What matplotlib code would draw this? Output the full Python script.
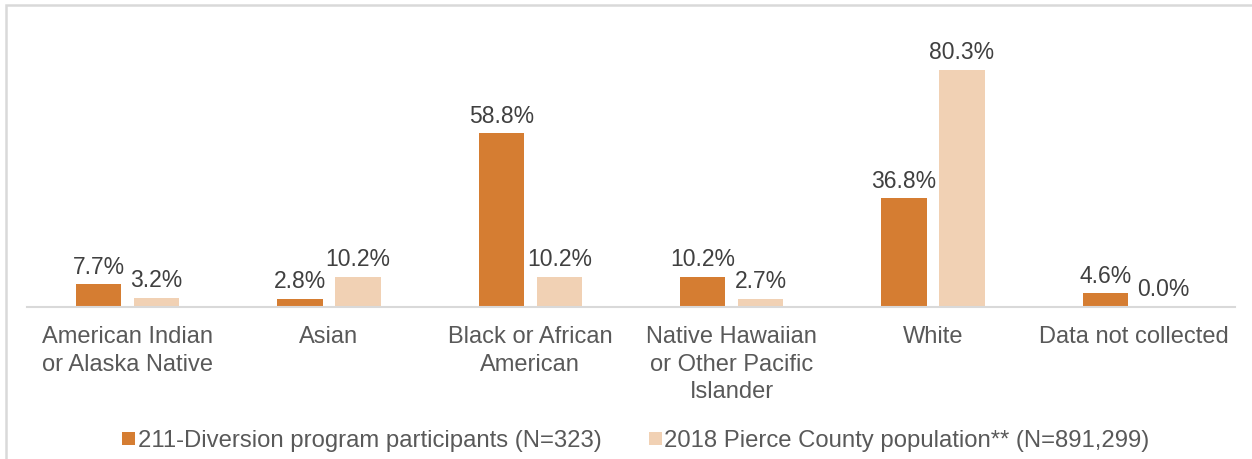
import numpy as np
import matplotlib.pyplot as plt
from matplotlib.patches import Rectangle

plt.rcParams['font.family'] = ['Liberation Sans', 'DejaVu Sans']

categories = ['American Indian\nor Alaska Native', 'Asian', 'Black or African\nAmerican',
              'Native Hawaiian\nor Other Pacific\nIslander', 'White', 'Data not collected']
participants = [7.7, 2.8, 58.8, 10.2, 36.8, 4.6]
county = [3.2, 10.2, 10.2, 2.7, 80.3, 0.0]
series_names = ['211-Diversion program participants (N=323)',
                '2018 Pierce County population** (N=891,299)']

c_part = '#D57D32'
c_county = '#F1D1B4'
txt = '#404040'

fig = plt.figure(figsize=(12.52, 4.59), dpi=100)
ax = fig.add_axes([27 / 1252, 152 / 459, 1208 / 1252, 266 / 459])

x = np.arange(len(categories))
w = 0.224
off = 0.144
b1 = ax.bar(x - off, participants, w, color=c_part, label=series_names[0])
b2 = ax.bar(x + off, county, w, color=c_county, label=series_names[1])

for bars, vals in ((b1, participants), (b2, county)):
    for rect, v in zip(bars, vals):
        ax.annotate(f'{v:.1f}%', (rect.get_x() + rect.get_width() / 2, v),
                    xytext=(0, 4), textcoords='offset points',
                    ha='center', va='bottom', fontsize=16.5, color=txt)

ax.set_xlim(-0.5, len(categories) - 0.5)
ax.set_ylim(0, 90)
ax.set_xticks(x)
ax.set_xticklabels(categories, fontsize=17, color='#595959', linespacing=1.34)
ax.tick_params(axis='x', length=0, pad=13.5)
ax.set_yticks([])
for s in ['top', 'right', 'left']:
    ax.spines[s].set_visible(False)
ax.spines['bottom'].set_color('#d9d9d9')
ax.spines['bottom'].set_linewidth(1.5)

fig.legend(handles=[b1, b2], loc='center', bbox_to_anchor=(0.508, 1 - 441 / 459),
           ncol=2, frameon=False, fontsize=17.2, handlelength=0.52, handleheight=0.52,
           handletextpad=0.12, columnspacing=2.0, labelcolor='#595959')

# chart frame
fig.patches.append(Rectangle((6 / 1252, -0.1), 1.2, 1 - 5 / 459 + 0.1,
                             transform=fig.transFigure, fill=False,
                             edgecolor='#d9d9d9', linewidth=1.8))

fig.savefig('out.png', dpi=100)
